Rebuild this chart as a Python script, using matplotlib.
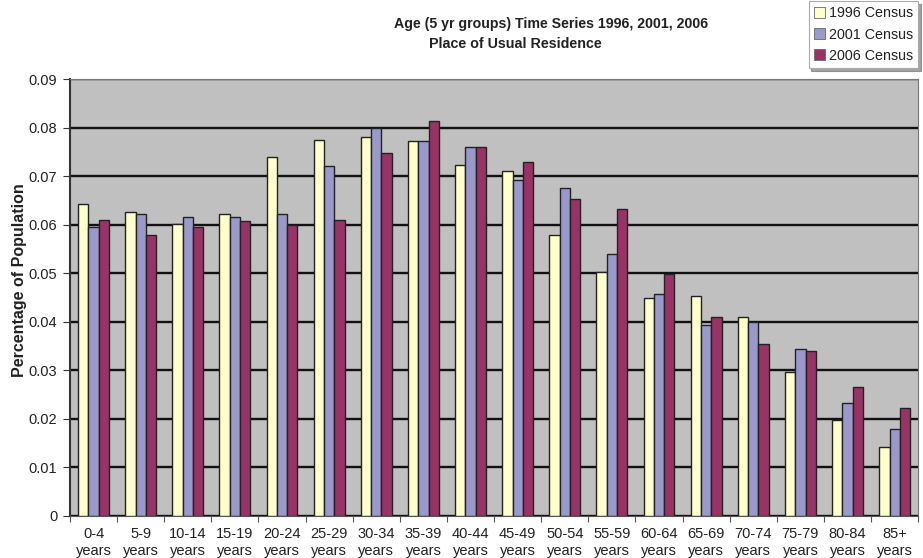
import numpy as np
import matplotlib.pyplot as plt
from matplotlib.patches import Patch

plt.rcParams['font.family'] = ['Liberation Sans', 'DejaVu Sans']

# Age groups and share of population per census
age_groups = ['0-4', '5-9', '10-14', '15-19', '20-24', '25-29', '30-34', '35-39', '40-44',
              '45-49', '50-54', '55-59', '60-64', '65-69', '70-74', '75-79', '80-84', '85+']
census_1996 = [0.0642, 0.0627, 0.0601, 0.0621, 0.0740, 0.0774, 0.0781, 0.0772, 0.0722,
               0.0711, 0.0579, 0.0502, 0.0448, 0.0454, 0.0409, 0.0297, 0.0197, 0.0142]
census_2001 = [0.0596, 0.0622, 0.0615, 0.0616, 0.0621, 0.0721, 0.0800, 0.0772, 0.0761,
               0.0691, 0.0675, 0.0539, 0.0457, 0.0393, 0.0399, 0.0344, 0.0232, 0.0179]
census_2006 = [0.0609, 0.0578, 0.0596, 0.0607, 0.0600, 0.0610, 0.0748, 0.0814, 0.0759,
               0.0730, 0.0652, 0.0633, 0.0498, 0.0409, 0.0355, 0.0340, 0.0266, 0.0223]
series_names = ['1996 Census', '2001 Census', '2006 Census']
colors = ['#FFFFCC', '#9999CC', '#993366']

fig = plt.figure(figsize=(9.23, 5.58), dpi=100)
ax = fig.add_axes([0.0758, 0.0753, 0.919, 0.7831])
ax.set_facecolor('#C0C0C0')

x = np.arange(len(age_groups))
w = 0.218
for i, (vals, c) in enumerate(zip([census_1996, census_2001, census_2006], colors)):
    ax.bar(x + (i - 1) * w, vals, width=w, color=c, edgecolor='#222222', linewidth=1.0, zorder=3)

ax.set_xlim(-0.5, len(age_groups) - 0.5)
ax.set_ylim(0, 0.09)
ax.set_yticks(np.arange(0, 0.091, 0.01))
ax.set_yticklabels(['0'] + ['%.2f' % v for v in np.arange(0.01, 0.091, 0.01)],
                   fontsize=10.5, color='#222222')
ax.yaxis.grid(True, color='#111111', linewidth=1.7, zorder=1)
ax.set_axisbelow(True)

# category boundary ticks with two-line labels centred under each group
ax.set_xticks(np.arange(-0.5, len(age_groups), 1.0))
ax.set_xticklabels([])
ax.set_xticks(x, minor=True)
ax.set_xticklabels([g + '\nyears' for g in age_groups], minor=True, fontsize=10.5,
                   linespacing=1.3, color='#222222')
ax.tick_params(axis='x', which='minor', length=0, pad=8)
ax.tick_params(axis='x', which='major', length=4, color='#555555')
ax.tick_params(axis='y', length=5, color='#333333', pad=4)

for side in ['top', 'right']:
    ax.spines[side].set_color('#777777')
ax.spines['left'].set_color('#333333')
ax.spines['bottom'].set_color('#555555')
ax.spines['left'].set_linewidth(1.5)

ax.set_ylabel('Percentage of Population', fontsize=11.5, fontweight='bold', labelpad=3,
              color='#222222')
ax.yaxis.set_label_coords(-0.051, 0.54)

fig.text(0.597, 0.957, 'Age (5 yr groups) Time Series 1996, 2001, 2006',
         ha='center', va='center', fontsize=10.2, fontweight='bold', color='#222222')
fig.text(0.558, 0.921, 'Place of Usual Residence', ha='center', va='center',
         fontsize=10.3, fontweight='bold', color='#222222')

handles = [Patch(facecolor=c, edgecolor='#666666', linewidth=0.6) for c in colors]
leg = fig.legend(handles, series_names, loc='upper right', bbox_to_anchor=(0.996, 1.0),
                 fontsize=10.3, frameon=True, fancybox=False, shadow=True,
                 handlelength=0.8, handleheight=0.8, handletextpad=0.25,
                 labelspacing=0.5, borderpad=0.35, borderaxespad=0.1)
leg.get_frame().set_edgecolor('#AAAAAA')
leg.get_frame().set_linewidth(0.8)
for t in leg.get_texts():
    t.set_color('#222222')

fig.savefig('out.png', dpi=100)
